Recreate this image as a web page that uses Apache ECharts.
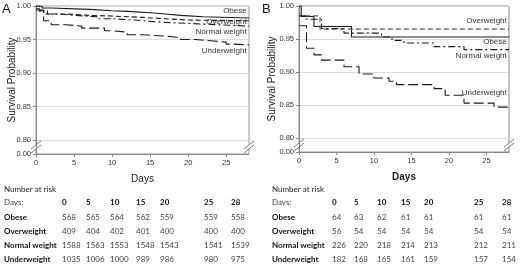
<!DOCTYPE html>
<html>
<head>
<meta charset="utf-8">
<script src="https://cdn.jsdelivr.net/npm/echarts@6/dist/echarts.min.js"></script>
<style>
html, body { margin: 0; padding: 0; background: #fff; }
#chart { width: 520px; height: 265px; }
</style>
</head>
<body>
<div id="chart"></div>
<script>
// groups and number-at-risk table
const groups = ['Obese', 'Overweight', 'Normal weight', 'Underweight']
const riskDays = [0, 5, 10, 15, 20, 25, 28]
const riskA = [
    [568, 565, 564, 562, 559, 559, 558],
    [409, 404, 402, 401, 400, 400, 400],
    [1588, 1563, 1553, 1548, 1543, 1541, 1539],
    [1035, 1006, 1000, 989, 986, 980, 975]
]
const riskB = [
    [64, 63, 62, 61, 61, 61, 61],
    [56, 54, 54, 54, 54, 54, 54],
    [226, 220, 218, 214, 213, 212, 211],
    [182, 168, 165, 161, 159, 157, 154]
]

// survival curves, [day, probability]
const obeseA = [[0, 1.0], [0.8, 0.997], [2, 0.995], [7, 0.993], [10, 0.992], [12, 0.99], [15, 0.988], [17, 0.986], [19, 0.984], [22, 0.982], [28, 0.982]]
const overA = [[0, 1.0], [0.5, 0.993], [1.5, 0.988], [4, 0.986], [7, 0.985], [10, 0.983], [14, 0.981], [17, 0.979], [20, 0.978], [28, 0.978]]
const normalA = [[0, 0.996], [0.5, 0.991], [1, 0.988], [3, 0.986], [5, 0.984], [8, 0.981], [10, 0.979], [13, 0.977], [15, 0.975], [18, 0.974], [20, 0.972], [24, 0.971], [26, 0.970], [28, 0.970]]
const underA = [[0, 0.994], [1, 0.978], [2, 0.972], [4, 0.970], [6, 0.967], [9, 0.963], [10, 0.961], [12, 0.957], [14, 0.955], [17, 0.953], [19, 0.950], [21, 0.948], [23, 0.946], [25, 0.943], [26, 0.942], [28, 0.942]]

const obeseB = [[0, 1.0], [0.3, 0.984], [2, 0.969], [7, 0.953], [28, 0.953]]
const overB = [[0, 1.0], [0.3, 0.985], [2.8, 0.965], [28, 0.965]]
const normalB = [[0, 0.985], [1, 0.98], [3, 0.966], [6, 0.959], [11, 0.953], [12.4, 0.948], [14, 0.944], [18, 0.9385], [22, 0.934], [28, 0.934]]
const underB = [[0, 0.97], [1, 0.936], [2, 0.926], [3, 0.918], [6, 0.908], [8, 0.897], [10, 0.891], [12, 0.886], [13, 0.881], [18, 0.875], [19.5, 0.865], [22, 0.853], [26, 0.847], [28, 0.847]]

// axis ticks (0.779 is the broken-axis "0.00")
const yTicks = [0.779, 0.80, 0.85, 0.90, 0.95, 1.00]
const xTicks = [0, 5, 10, 15, 20, 25]

// where the curve names sit (probability), in groups order
const labelYA = [0.9925, 0.976, 0.961, 0.933]
const labelYB = [0.946, 0.9776, 0.925, 0.869]

const dashes = ['solid', [5, 3], [7, 3, 2, 3], [10, 4]]

const chart = echarts.init(document.getElementById('chart'))

const makeY = (idx, gap) => ({
    type: 'value',
    gridIndex: idx,
    min: 0.779,
    max: 1.0,
    name: 'Survival Probability',
    nameLocation: 'middle',
    nameGap: gap,
    nameMoveOverlap: false,
    nameTextStyle: { fontFamily: 'Liberation Sans', fontSize: 10, color: '#222' },
    axisLine: { show: true, lineStyle: { color: '#888' } },
    axisTick: { show: true, length: 3, customValues: yTicks, lineStyle: { color: '#888' } },
    axisLabel: {
        customValues: yTicks,
        margin: 5,
        fontFamily: 'Liberation Sans',
        fontSize: 7.5,
        color: '#333',
        formatter: (v) => v < 0.79 ? '0.00' : v.toFixed(2)
    },
    splitLine: { show: true, lineStyle: { color: '#dcdcdc' } }
})

const makeX = (idx, bold) => ({
    type: 'value',
    gridIndex: idx,
    min: 0,
    max: 28,
    name: 'Days',
    nameLocation: 'middle',
    nameGap: 20,
    nameMoveOverlap: false,
    nameTextStyle: { fontFamily: 'Liberation Sans', fontSize: 10, color: '#222', fontWeight: bold ? 'bold' : 'normal' },
    axisLine: { show: true, lineStyle: { color: '#888' } },
    axisTick: { show: true, length: 3, customValues: xTicks, lineStyle: { color: '#888' } },
    axisLabel: { customValues: xTicks, margin: 5, fontFamily: 'Liberation Sans', fontSize: 7.5, color: '#333' },
    splitLine: { show: false }
})

const curves = [[obeseA, overA, normalA, underA], [obeseB, overB, normalB, underB]]
const series = []
curves.forEach((set, idx) => {
    set.forEach((data, i) => {
        series.push({
            name: groups[i],
            type: 'line',
            step: 'end',
            xAxisIndex: idx,
            yAxisIndex: idx,
            data,
            symbol: 'none',
            silent: true,
            lineStyle: { color: i === 1 && idx === 1 ? '#555' : '#1a1a1a', width: 1.1, type: dashes[i] }
        })
    })
})

chart.setOption({
    animation: false,
    grid: [
        { left: 36, right: 271, top: 6, bottom: 111, show: true, borderColor: '#999', borderWidth: 1 },
        { left: 299, right: 11, top: 6, bottom: 113, show: true, borderColor: '#888', borderWidth: 1 }
    ],
    xAxis: [makeX(0, false), makeX(1, true)],
    yAxis: [makeY(0, 19), makeY(1, 22)],
    series
})

// annotations: panel letters, curve names, axis breaks, risk table
const graphics = []
const txt = (x, y, text, opt) => ({
    type: 'text',
    x, y,
    silent: true,
    style: Object.assign({ text, fill: '#222', fontFamily: 'Liberation Sans', fontSize: 7.5, verticalAlign: 'middle' }, opt)
})

graphics.push(txt(2, 9, 'A', { fontSize: 13, fill: '#111' }))
graphics.push(txt(262, 9, 'B', { fontSize: 13, fill: '#111' }))

;[labelYA, labelYB].forEach((ys, idx) => {
    ys.forEach((v, i) => {
        const p = chart.convertToPixel({ gridIndex: idx }, [27.7, v])
        graphics.push(txt(p[0], p[1], groups[i], { align: 'right', fill: '#333', fontSize: 8 }))
    })
})

// axis break marks on left axis and right border
;[0, 1].forEach((idx) => {
    ;[0, 28].forEach((d) => {
        const p = chart.convertToPixel({ gridIndex: idx }, [d, 0.7895])
        graphics.push({ type: 'rect', silent: true, shape: { x: p[0] - 2, y: p[1] - 2, width: 4, height: 4 }, style: { fill: '#fff' } })
        ;[-2, 2].forEach((o) => {
            graphics.push({
                type: 'line', silent: true,
                shape: { x1: p[0] - 5, y1: p[1] + o + 4, x2: p[0] + 5, y2: p[1] + o - 4 },
                style: { stroke: '#777', lineWidth: 1 }
            })
        })
    })
})

// number at risk tables
const tables = [
    { left: 4, cols: [62, 86, 110, 136, 160, 204, 231], rows: riskA },
    { left: 272, cols: [332, 354, 377, 401, 424, 474, 502], rows: riskB }
]
const rowY = [202, 217, 231, 245, 259]
const tFont = { fontFamily: 'Lato', fontSize: 8, fill: '#222' }
tables.forEach((t) => {
    graphics.push(txt(t.left, 189, 'Number at risk', tFont))
    graphics.push(txt(t.left, rowY[0], 'Days:', Object.assign({}, tFont, { fill: '#444' })))
    riskDays.forEach((d, j) => {
        graphics.push(txt(t.cols[j], rowY[0], String(d), Object.assign({}, tFont, { fontWeight: 'bold', fill: '#111' })))
    })
    groups.forEach((g, i) => {
        graphics.push(txt(t.left, rowY[i + 1], g, Object.assign({}, tFont, { fontWeight: 'bold', fill: '#111' })))
        t.rows[i].forEach((n, j) => {
            graphics.push(txt(t.cols[j], rowY[i + 1], String(n), Object.assign({}, tFont, { fill: '#444' })))
        })
    })
})

chart.setOption({ graphic: graphics })
</script>
</body>
</html>
